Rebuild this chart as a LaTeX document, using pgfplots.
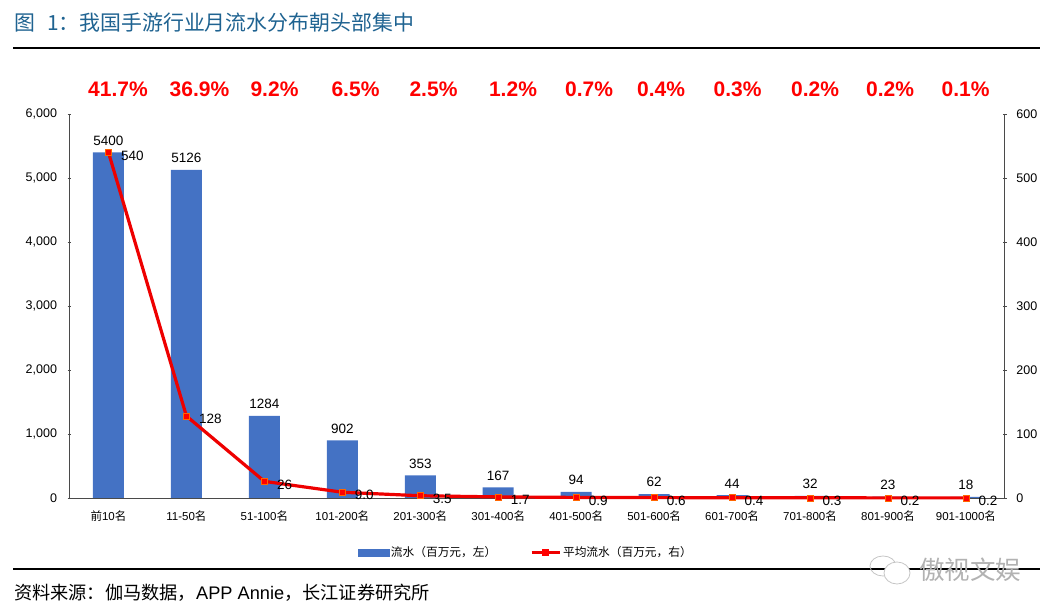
\documentclass[border=0pt]{standalone}
\usepackage{pgfplots}
\usepackage{pgfplotstable}
\usepackage{fontspec}
\pgfplotsset{compat=1.18}
\setmainfont{Liberation Sans}
\newfontfamily\cjk{Noto Sans CJK SC}
\definecolor{barblue}{HTML}{4472C4}
\definecolor{titleblue}{HTML}{1F6391}
\definecolor{linered}{HTML}{EE0000}
\definecolor{axisgray}{HTML}{4A4A4A}
\newcommand\ming{{\cjk 名}}
\pgfplotstableread{
x y label
0 5400 5400
1 5126 5126
2 1284 1284
3 902 902
4 353 353
5 167 167
6 94 94
7 62 62
8 44 44
9 32 32
10 23 23
11 18 18
}\flowdata
\pgfplotstableread{
x y label
0 540 540
1 128 128
2 26 26
3 9.0 9.0
4 3.5 3.5
5 1.7 1.7
6 0.9 0.9
7 0.6 0.6
8 0.4 0.4
9 0.3 0.3
10 0.2 0.2
11 0.2 0.2
}\avgdata
\pgfplotsset{
  base/.style={
    at={(69.5pt,117pt)}, anchor=south west,
    scale only axis, width=935.4pt, height=384pt,
    xmin=-0.5, xmax=11.5, clip=false,
    tick align=inside,
    major tick length=4pt, minor tick length=4pt,
    tick label style={font=\fontsize{12.5}{14}\selectfont, text=black},
    /pgf/number format/assume math mode=true,
    /pgf/number format/1000 sep={,},
  },
  lines/.style={
    axis line style={-, axisgray, line width=0.9pt},
    tick style={axisgray, line width=0.7pt},
  },
}
\begin{document}
\begin{tikzpicture}[x=1pt,y=1pt]
\path (0,0) rectangle (1055,615);
\begin{axis}[base,
  axis x line=bottom, axis y line=left, lines,
  ymin=0, ymax=6000, ytick={0,1000,...,6000},
  xtick={0,...,11},
  xticklabels={{\cjk 前}10\ming,11-50\ming,51-100\ming,101-200\ming,201-300\ming,301-400\ming,401-500\ming,501-600\ming,601-700\ming,701-800\ming,801-900\ming,901-1000\ming},
  x tick label style={font=\fontsize{11.5}{14}\selectfont, yshift=-7pt},
  y tick label style={xshift=-7pt},
  xtick style={draw=none},
  minor xtick={-0.5,0.5,...,11.5},
  minor tick style={axisgray, line width=0.7pt},
  legend style={draw=none, fill=none, at={(0.4877,-0.1415)}, anchor=center,
    legend columns=2, font=\fontsize{11.7}{14}\selectfont,
    /tikz/every even column/.style={column sep=32pt}},
]
\addplot[forget plot, ybar, bar width=31pt, fill=barblue, draw=none,
  point meta=explicit symbolic,
  nodes near coords,
  every node near coord/.style={font=\fontsize{13.5}{15}\selectfont, text=black, anchor=south, yshift=3.5pt},
] table[x=x, y=y, meta=label] {\flowdata};
\addlegendimage{legend image code/.code={\fill[barblue] (-2pt,-3.5pt) rectangle (29pt,3.5pt);}}
\addlegendentry{\cjk 流水（百万元，左）}
\addlegendimage{legend image code/.code={
  \draw[linered, line width=2.8pt] (-4pt,0pt) -- (24pt,0pt);
  \fill[red] (7pt,-3pt) rectangle (13pt,3pt);}}
\addlegendentry{\cjk 平均流水（百万元，右）}
\end{axis}
\begin{axis}[base,
  axis x line=none, axis y line=right, lines,
  ymin=0, ymax=600, ytick={0,100,...,600},
  y tick label style={xshift=6pt},
]
\addplot[linered, line width=3.2pt,
  mark=square*, mark size=3pt,
  mark options={fill=red, draw=orange!80!red, line width=0.6pt},
  point meta=explicit symbolic,
  nodes near coords,
  every node near coord/.style={font=\fontsize{13.5}{15}\selectfont, text=black, anchor=west, xshift=9pt, yshift=-3pt},
] table[x=x, y=y, meta=label] {\avgdata};
\end{axis}
% percent shares
\foreach \px/\t in {118/41.7\%,199.5/36.9\%,274.5/9.2\%,355.5/6.5\%,433.5/2.5\%,513/1.2\%,589/0.7\%,661/0.4\%,737.5/0.3\%,815/0.2\%,890/0.2\%,965.5/0.1\%}
  \node[text=red, font=\fontsize{21}{24}\selectfont\bfseries] at (\px,526) {\t};
% title and source
\node[anchor=west, inner sep=0pt, text=titleblue, font=\fontsize{20.9}{24}\selectfont\cjk] at (14,592) {图\hspace{12pt}1：我国手游行业月流水分布朝头部集中};
\draw[black, line width=2pt] (13,567.2) -- (1040,567.2);
\draw[black, line width=2pt] (13,45.5) -- (1040,45.5);
\node[anchor=west, inner sep=0pt, font=\fontsize{18.2}{20}\selectfont] at (14,22.5) {{\cjk 资料来源：伽马数据，}APP Annie{\cjk ，长江证券研究所}};
% watermark
\draw[gray!45, line width=0.8pt] (883,49) ellipse (13pt and 10pt);
\draw[gray!45, line width=0.8pt, fill=white] (897,42) ellipse (13pt and 11pt);
\node[text=gray!60, font=\fontsize{25.5}{28}\selectfont\cjk, inner sep=0pt] at (970,45) {傲视文娱};
\end{tikzpicture}
\end{document}
